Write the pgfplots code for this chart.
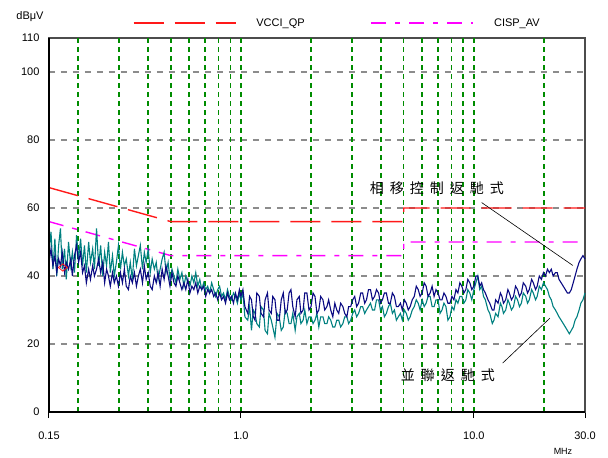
\documentclass[border=0pt]{standalone}
\usepackage{fontspec}
\setmainfont{Liberation Sans}
\newfontfamily\cjk{Noto Sans CJK TC}
\usepackage{pgfplots}
\usepackage{pgfplotstable}
\pgfplotsset{compat=1.18}
\definecolor{limred}{RGB}{255,25,25}
\definecolor{limmag}{RGB}{255,0,255}
\definecolor{gridgreen}{RGB}{0,140,0}
\definecolor{gridgray}{RGB}{140,140,140}
\definecolor{navyline}{RGB}{10,10,130}
\definecolor{tealline}{RGB}{0,128,128}

\pgfplotstableread{
f N T
0.150 44 47
0.153 48 53
0.156 43 42
0.159 46 51
0.162 41 40
0.165 45 49
0.168 43 54
0.171 47 42
0.175 41 48
0.178 44 39
0.182 42 50
0.186 45 43
0.189 40 47
0.193 46 41
0.197 49 52
0.201 44 45
0.205 47 51
0.209 41 43
0.213 43 49
0.217 38 41
0.222 42 50
0.226 39 44
0.231 43 48
0.235 40 42
0.240 42 54
0.245 45 43
0.250 41 49
0.255 44 40
0.260 38 47
0.265 42 43
0.270 40 50
0.275 37 41
0.281 41 46
0.286 38 40
0.292 40 44
0.298 37 49
0.304 41 42
0.310 38 47
0.316 42 43
0.322 37 45
0.329 36 40
0.335 40 44
0.342 38 39
0.349 41 48
0.356 37 43
0.363 40 46
0.370 42 49
0.378 38 42
0.385 43 47
0.392 39 44
0.400 41 48
0.408 37 41
0.416 36 45
0.425 40 42
0.433 38 44
0.441 41 39
0.450 37 42
0.459 42 45
0.468 39 47
0.477 43 41
0.487 40 44
0.496 37 39
0.506 41 42
0.516 38 40
0.526 37 38
0.536 40 42
0.547 38 39
0.558 36 41
0.569 38 37
0.580 36 40
0.592 39 38
0.604 35 37
0.616 37 40
0.628 36 38
0.640 38 41
0.653 35 37
0.666 37 39
0.679 36 36
0.692 37 38
0.706 34 36
0.720 36 37
0.734 35 35
0.749 36 38
0.764 34 36
0.779 35 34
0.795 33 36
0.810 35 37
0.826 33 34
0.842 34 35
0.859 32 33
0.876 35 36
0.893 33 34
0.911 34 33
0.929 32 35
0.947 35 34
0.966 33 32
0.985 36 35
1.00 34 33
1.02 36 35
1.04 31 28
1.07 29 27
1.09 34 31
1.11 33 24
1.13 28 30
1.15 27 29
1.17 35 26
1.20 34 25
1.22 29 31
1.25 28 30
1.27 33 24
1.30 35 23
1.32 30 29
1.35 29 27
1.37 34 25
1.40 33 22
1.43 27 29
1.46 27 28
1.49 33 24
1.52 35 25
1.55 29 30
1.58 30 29
1.61 35 26
1.64 36 26
1.67 31 29
1.71 28 24
1.74 33 28
1.78 34 29
1.81 29 26
1.85 30 27
1.88 35 30
1.92 35 26
1.96 30 28
2.00 31 28
2.04 35 26
2.08 34 27
2.12 29 29
2.16 30 25
2.20 34 28
2.25 33 28
2.29 30 26
2.34 31 26
2.38 33 28
2.43 30 27
2.48 28 25
2.53 32 25
2.58 30 27
2.63 29 27
2.68 32 25
2.74 31 26
2.79 29 28
2.85 28 28
2.90 31 26
2.96 31 27
3.02 33 29
3.08 34 30
3.14 31 28
3.20 32 29
3.27 35 31
3.33 35 31
3.40 32 29
3.46 33 30
3.53 36 31
3.60 36 32
3.67 33 30
3.75 34 30
3.82 36 33
3.90 35 33
3.97 32 30
4.05 33 31
4.13 35 28
4.21 35 29
4.30 32 31
4.38 32 32
4.47 35 29
4.56 34 30
4.65 31 27
4.74 31 28
4.84 32 29
4.93 30 27
5.03 33 30
5.13 32 29
5.23 30 27
5.33 31 28
5.44 33 30
5.55 34 31
5.66 37 33
5.77 36 32
5.88 34 30
6.00 35 33
6.12 38 31
6.24 37 32
6.36 34 34
6.49 35 34
6.62 37 31
6.75 34 31
6.88 36 33
7.02 35 33
7.16 33 29
7.30 33 30
7.44 35 32
7.59 34 31
7.74 32 27
7.90 32 28
8.05 34 31
8.21 33 30
8.38 36 33
8.54 35 32
8.71 38 34
8.88 37 34
9.06 35 32
9.24 36 33
9.42 39 36
9.61 38 35
9.80 36 33
10.0 37 36
10.2 40 38
10.4 40 40
10.6 37 36
10.8 38 37
11.0 36 34
11.2 35 33
11.5 33 30
11.7 32 29
12.0 30 26
12.2 30 27
12.4 33 29
12.7 32 28
13.0 35 32
13.2 34 31
13.4 32 29
13.7 33 30
14.0 36 33
14.2 35 32
14.5 33 30
14.8 34 31
15.1 37 34
15.4 36 33
15.7 34 31
16.0 35 32
16.3 38 35
16.7 37 34
17.0 35 32
17.3 36 33
17.7 39 36
18.0 38 35
18.4 36 33
18.7 37 34
19.1 40 37
19.5 39 36
19.9 41 38
20.3 40 37
20.7 42 36
21.1 41 34
21.5 42 33
21.9 40 31
22.4 41 30
22.8 41 29
23.2 39 28
23.7 38 27
24.2 37 26
24.7 36 25
25.2 35 24
25.7 35 23
26.2 36 24
26.7 38 25
27.2 40 27
27.7 42 28
28.3 44 30
28.8 45 32
29.4 46 33
30.0 45 35
}\meas

\begin{document}
\begin{tikzpicture}
\path[use as bounding box] (-49pt,-46pt) rectangle (559pt,412pt);
\begin{axis}[
  at={(0pt,0pt)}, anchor=south west,
  scale only axis, width=536pt, height=374pt,
  xmode=log, log basis x=10,
  xmin=0.15, xmax=30, ymin=0, ymax=110,
  xtick={0.15,1,10,30}, xticklabels={0.15,1.0,10.0,30.0},
  minor xtick={},
  extra x ticks={0.2,0.3,0.4,0.5,0.6,0.7,0.8,0.9,1,2,3,4,5,6,7,8,9,10,20},
  extra x tick labels={},
  extra x tick style={grid=major, major tick length=0pt,
     major grid style={gridgreen, line width=1.5pt, dash pattern=on 5pt off 4pt}},
  ytick={0,20,40,60,80,100,110},
  /pgf/number format/assume math mode=true,
  tick label style={font=\fontsize{11}{13}\selectfont},
  xticklabel style={yshift=-10pt},
  xtick pos=left, ytick pos=left,
  tick align=outside,
  major tick length=6pt,
  y tick style={draw=none},
  x tick style={black, line width=1pt},
  ymajorgrids,
  major grid style={gridgray, line width=1.2pt, dash pattern=on 6pt off 6pt},
  axis line style={draw=gray!60!black, line width=1.2pt},
  clip=false,
  legend style={draw=none, fill=none, inner sep=0pt, outer sep=0pt,
    at={(0.1567,1.0401)}, anchor=west, legend columns=2,
    nodes={inner sep=0pt, font=\fontsize{11}{13}\selectfont},
    /tikz/every odd column/.append style={column sep=20pt},
    /tikz/every even column/.append style={column sep=66pt}},
  legend image code/.code={\draw[#1] (0pt,0pt) -- (102pt,0pt);},
]
\addplot[limred, line width=1.4pt, dash pattern=on 30pt off 11pt] coordinates {(0.15,66) (0.5,56) (5,56) (5,60) (30,60)};
\addlegendentry{VCCI\_QP}
\addplot[limmag, line width=1.4pt, dash pattern=on 15pt off 9pt on 5pt off 9pt] coordinates {(0.15,56) (0.5,46) (5,46) (5,50) (30,50)};
\addlegendentry{CISP\_AV}
\addplot[tealline, line width=1.1pt, forget plot] table[x=f, y=T] {\meas};
\addplot[navyline, line width=1.1pt, forget plot] table[x=f, y=N] {\meas};
\addplot[only marks, mark=diamond, mark size=6pt, mark options={draw=limred, fill=none, line width=0.8pt, yscale=0.6}, forget plot] coordinates {(0.172,42.5)};
\draw[black, line width=0.6pt] (axis cs:10.8,61.6) -- (axis cs:26.6,43.1);
\draw[black, line width=0.6pt] (axis cs:13.3,14.4) -- (axis cs:21.2,27.6);
\node[font=\cjk\fontsize{14}{16}\selectfont] at (axis cs:6.94,65.7) {相\hspace{6pt}移\hspace{6pt}控\hspace{6pt}制\hspace{6pt}返\hspace{6pt}馳\hspace{6pt}式};
\node[font=\cjk\fontsize{14}{16}\selectfont] at (axis cs:7.73,10.9) {並\hspace{6pt}聯\hspace{6pt}返\hspace{6pt}馳\hspace{6pt}式};
\draw[black, line width=1.6pt] (rel axis cs:0,1) -- (rel axis cs:0,0) -- (rel axis cs:1,0);
\node[font=\fontsize{11}{13}\selectfont] at (rel axis cs:0,1) [xshift=-19pt, yshift=21pt] {dBμV};
\node[font=\fontsize{9}{11}\selectfont] at (rel axis cs:1,0) [xshift=-22pt, yshift=-39pt] {MHz};
\end{axis}
\end{tikzpicture}
\end{document}
